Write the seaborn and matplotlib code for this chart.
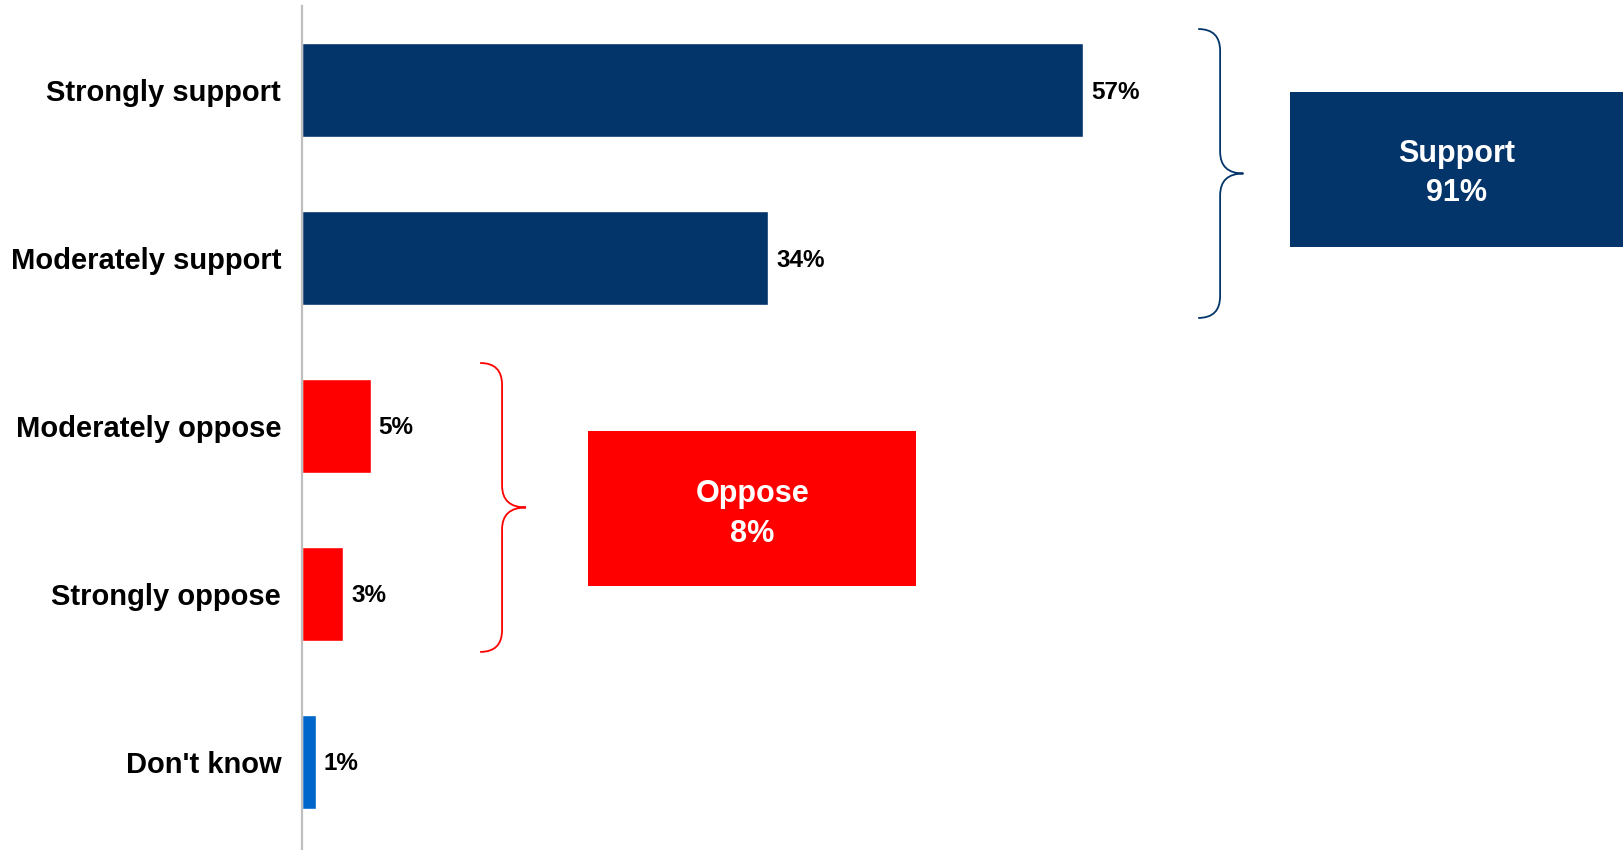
import matplotlib
matplotlib.use("Agg")
import matplotlib.pyplot as plt
from matplotlib.path import Path
from matplotlib.patches import PathPatch, Rectangle
import seaborn as sns
import pandas as pd

# Survey responses
categories = ["Strongly support", "Moderately support", "Moderately oppose",
              "Strongly oppose", "Don't know"]
values = [57, 34, 5, 3, 1]
bar_colors = ["#03346A", "#03346A", "#FF0000", "#FF0000", "#0066CC"]

# Grouped totals
support_total = 91
oppose_total = 8

sns.set_theme(style="white")
plt.rcParams["font.family"] = ["Liberation Sans", "DejaVu Sans"]
plt.rcParams["font.weight"] = "bold"

df = pd.DataFrame({"category": categories, "value": values})

fig = plt.figure(figsize=(16.23, 8.5), dpi=100)
ax = fig.add_axes([302 / 1623, 0.0, 1 - 302 / 1623, 1 - 6 / 850])

sns.barplot(data=df, y="category", x="value", hue="category",
            palette=dict(zip(categories, bar_colors)), order=categories,
            hue_order=categories, width=0.56, legend=False, ax=ax,
            saturation=1, orient="h")

ax.set_xlim(0, 96.4)
ax.set_ylim(4.524, -0.5)
ax.set_xlabel("")
ax.set_ylabel("")
ax.set_xticks([])
ax.tick_params(axis="y", length=0, pad=15)
for lbl in ax.get_yticklabels():
    lbl.set_fontsize(21)
    lbl.set_fontweight("bold")
    lbl.set_color("black")

for side in ["top", "right", "bottom"]:
    ax.spines[side].set_visible(False)
ax.spines["left"].set_color("#BFBFBF")
ax.spines["left"].set_linewidth(1.6)

# Value labels at the end of each bar
for i, v in enumerate(values):
    ax.text(v + 0.6, i + 0.012, f"{v}%", va="center", ha="left",
            fontsize=17.5, fontweight="bold", color="black")


def brace(ax, x_end, x_mid, x_tip, y_top, y_bot, r, color):
    y_tip = (y_top + y_bot) / 2
    verts = [
        (x_end, y_top), (x_mid, y_top), (x_mid, y_top + r),
        (x_mid, y_tip - r),
        (x_mid, y_tip), (x_tip, y_tip),
        (x_mid, y_tip), (x_mid, y_tip + r),
        (x_mid, y_bot - r),
        (x_mid, y_bot), (x_end, y_bot),
    ]
    codes = [
        Path.MOVETO, Path.CURVE3, Path.CURVE3,
        Path.LINETO,
        Path.CURVE3, Path.CURVE3,
        Path.CURVE3, Path.CURVE3,
        Path.LINETO,
        Path.CURVE3, Path.CURVE3,
    ]
    ax.add_patch(PathPatch(Path(verts, codes), facecolor="none",
                           edgecolor=color, linewidth=1.3, clip_on=False))


# Support group
brace(ax, 65.4, 67.0, 68.7, -0.363, 1.357, 0.13, "#03346A")
ax.add_patch(Rectangle((72.1, 0.012), 24.3, 0.923, facecolor="#03346A",
                       edgecolor="none", clip_on=False))
ax.text(72.1 + 24.3 / 2, 0.012 + 0.923 / 2 + 0.025, f"Support\n{support_total}%",
        ha="center", va="center", color="white", fontsize=22,
        fontweight="bold", linespacing=1.4)

# Oppose group
brace(ax, 13.0, 14.6, 16.35, 1.625, 3.345, 0.13, "#FF0000")
ax.add_patch(Rectangle((20.9, 2.027), 23.9, 0.925, facecolor="#FF0000",
                       edgecolor="none", clip_on=False))
ax.text(20.9 + 23.9 / 2, 2.027 + 0.925 / 2 + 0.035, f"Oppose\n{oppose_total}%",
        ha="center", va="center", color="white", fontsize=22,
        fontweight="bold", linespacing=1.4)

fig.savefig("out.png", dpi=100, facecolor="white")
